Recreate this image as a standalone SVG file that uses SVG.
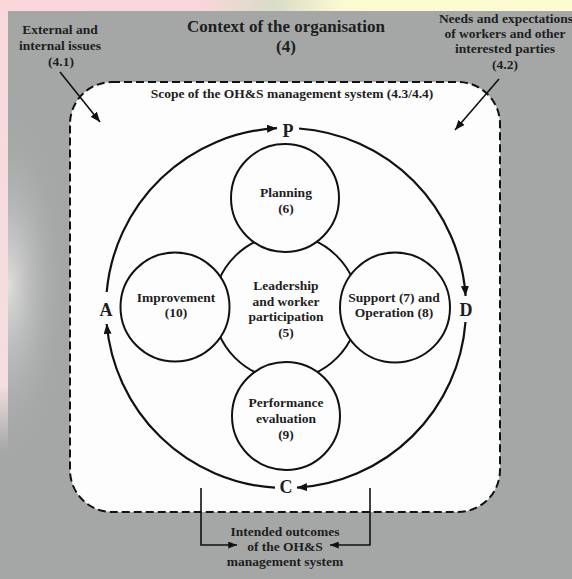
<svg xmlns="http://www.w3.org/2000/svg" width="572" height="579" viewBox="0 0 572 579">
  <style>
    .t { font-family: "Liberation Serif", "Times New Roman", serif; font-weight: bold; fill: #1e1e1e; text-anchor: middle; }
    .n { font-size: 13.5px; }
    .title { font-size: 17px; }
    .pdca { font-size: 18px; }
    .node { fill: #fdfdfd; stroke: #111; stroke-width: 2; }
    .cyc { fill: none; stroke: #111; stroke-width: 2.2; }
    .con { fill: none; stroke: #111; stroke-width: 1.6; }
  </style>
  <defs>
    <marker id="ah" viewBox="0 0 10 8" refX="10" refY="4" markerWidth="10" markerHeight="8" markerUnits="userSpaceOnUse" orient="auto">
      <path d="M0,0 L10,4 L0,8 z" fill="#111"/>
    </marker>
    <marker id="ahs" viewBox="0 0 10 8" refX="10" refY="4" markerWidth="9" markerHeight="7" markerUnits="userSpaceOnUse" orient="auto">
      <path d="M0,0 L10,4 L0,8 z" fill="#111"/>
    </marker>
    <linearGradient id="topband" x1="0" y1="0" x2="1" y2="0">
      <stop offset="0" stop-color="#fbd7db"/>
      <stop offset="0.35" stop-color="#f9d6d9"/>
      <stop offset="0.48" stop-color="#d9dcc8"/>
      <stop offset="0.6" stop-color="#fcfad0"/>
      <stop offset="1" stop-color="#fdfbd2"/>
    </linearGradient>
    <linearGradient id="leftstrip" x1="0" y1="0" x2="0" y2="1">
      <stop offset="0" stop-color="#f8d8db"/>
      <stop offset="0.85" stop-color="#f3dfe0"/>
      <stop offset="1" stop-color="#a4a7a6"/>
    </linearGradient>
    <radialGradient id="leftglow" cx="0" cy="0.5" r="0.5" gradientUnits="objectBoundingBox">
      <stop offset="0" stop-color="#e2e2e0" stop-opacity="0.95"/>
      <stop offset="1" stop-color="#a4a7a6" stop-opacity="0"/>
    </radialGradient>
  </defs>

  <!-- background -->
  <rect x="0" y="0" width="572" height="579" fill="#a4a7a6"/>
  <rect x="0" y="0" width="572" height="11" fill="url(#topband)"/>
  <rect x="8" y="110" width="120" height="350" fill="url(#leftglow)"/>
  <rect x="0" y="11" width="8" height="440" fill="url(#leftstrip)"/>

  <!-- scope boundary -->
  <rect x="70" y="82" width="430" height="430" rx="42" ry="42" fill="#fdfdfd" stroke="#111" stroke-width="2" stroke-dasharray="8 4"/>

  <!-- outside labels -->
  <g id="title">
    <text class="t title" x="286" y="32">Context of the organisation</text>
    <text class="t title" x="286" y="52">(4)</text>
  </g>
  <g id="external">
    <text class="t n" x="60" y="34">External and</text>
    <text class="t n" x="60" y="49.5">internal issues</text>
    <text class="t n" x="61" y="65.5">(4.1)</text>
  </g>
  <g id="needs">
    <text class="t n" x="506" y="22.5">Needs and expectations</text>
    <text class="t n" x="505" y="37.5">of workers and other</text>
    <text class="t n" x="505" y="52.5">interested parties</text>
    <text class="t n" x="505" y="68.5">(4.2)</text>
  </g>
  <g id="scope">
    <text class="t n" x="292" y="97.5">Scope of the OH&amp;S management system (4.3/4.4)</text>
  </g>
  <g id="outcomes">
    <text class="t n" x="285" y="535.5">Intended outcomes</text>
    <text class="t n" x="285" y="550.5">of the OH&amp;S</text>
    <text class="t n" x="285" y="565.5">management system</text>
  </g>

  <!-- nodes -->
  <g id="leadership">
    <circle class="node" cx="286" cy="307" r="72"/>
    <text class="t n" x="286" y="289.5">Leadership</text>
    <text class="t n" x="286" y="305.5">and worker</text>
    <text class="t n" x="286" y="321">participation</text>
    <text class="t n" x="286" y="336.5">(5)</text>
  </g>
  <g id="planning">
    <circle class="node" cx="285" cy="198" r="54"/>
    <text class="t n" x="286" y="196.5">Planning</text>
    <text class="t n" x="286" y="212.5">(6)</text>
  </g>
  <g id="improvement">
    <circle class="node" cx="175" cy="307" r="54.5"/>
    <text class="t n" x="176" y="301.5">Improvement</text>
    <text class="t n" x="176" y="316.5">(10)</text>
  </g>
  <g id="support">
    <circle class="node" cx="395" cy="307.5" r="55"/>
    <text class="t n" x="394" y="301.5">Support (7) and</text>
    <text class="t n" x="394" y="316.5">Operation (8)</text>
  </g>
  <g id="performance">
    <circle class="node" cx="286" cy="416" r="54"/>
    <text class="t n" x="286" y="406.5">Performance</text>
    <text class="t n" x="286" y="422.5">evaluation</text>
    <text class="t n" x="286" y="438.5">(9)</text>
  </g>

  <!-- PDCA letters -->
  <g id="P"><text class="t pdca" x="288" y="137">P</text></g>
  <g id="D"><text class="t pdca" x="466" y="315.5">D</text></g>
  <g id="C"><text class="t pdca" x="286" y="493">C</text></g>
  <g id="A"><text class="t pdca" x="106" y="316">A</text></g>

  <!-- connectors -->
  <g id="connectors">
    <path class="cyc" d="M106.7,292 A180,180 0 0 1 277,128.2" marker-end="url(#ah)"/>
    <path class="cyc" d="M299,128.5 A180,180 0 0 1 465.6,296" marker-end="url(#ah)"/>
    <path class="cyc" d="M465.5,322 A180,180 0 0 1 297,487.7" marker-end="url(#ah)"/>
    <path class="cyc" d="M275,487.7 A180,180 0 0 1 106.7,324" marker-end="url(#ah)"/>
    <path class="con" d="M60,72 L100,122" marker-end="url(#ah)"/>
    <path class="con" d="M499,79 L455,130" marker-end="url(#ah)"/>
    <path class="con" d="M201,488 L201,545 L237,545" marker-end="url(#ahs)"/>
    <path class="con" d="M370,488 L370,545 L330,545" marker-end="url(#ahs)"/>
  </g>
</svg>
